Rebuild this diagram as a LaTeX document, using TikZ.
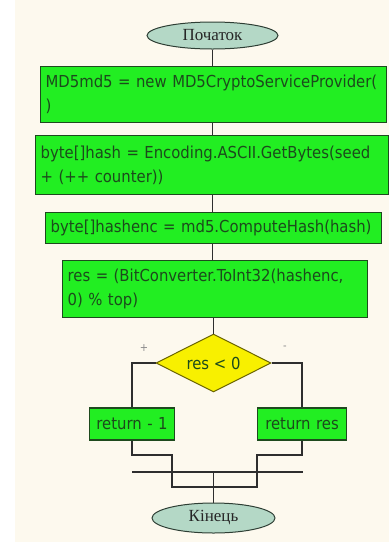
\documentclass[tikz,border=0pt]{standalone}
\usepackage{fontspec}
\usetikzlibrary{shapes.geometric}
\newfontfamily\boxfont{DejaVu Sans Condensed}
\newfontfamily\termfont{Liberation Serif}
\definecolor{paper}{HTML}{FDF9EE}
\definecolor{opfill}{HTML}{22EE22}
\definecolor{opdraw}{HTML}{1E4A1E}
\definecolor{optext}{HTML}{1C4A1C}
\definecolor{termfill}{HTML}{B4D8C6}
\definecolor{termdraw}{HTML}{2E3E34}
\definecolor{decfill}{HTML}{F8F000}
\definecolor{decdraw}{HTML}{6A6400}
\definecolor{wire}{HTML}{2E2E2E}
\tikzset{
  x=1pt, y=-1pt,
  opbox/.style={draw=opdraw, fill=opfill, line width=1.3pt, rectangle,
    anchor=north west, inner xsep=5pt, inner ysep=0pt, align=left,
    text=optext, font=\boxfont\fontsize{16.5}{24}\selectfont},
  term/.style={draw=termdraw, fill=termfill, line width=1pt, ellipse,
    inner sep=0pt, text=black!85, font=\termfont\fontsize{17}{18}\selectfont},
  decision/.style={draw=decdraw, fill=decfill, line width=1pt, diamond,
    inner sep=0pt, minimum width=115pt, minimum height=58pt, aspect=2,
    text=optext, font=\boxfont\fontsize{16.5}{18}\selectfont},
  wireline/.style={draw=wire, line width=1.4pt},
  sign/.style={text=black!45, font=\boxfont\fontsize{11}{11}\selectfont}
}
\begin{document}
\begin{tikzpicture}
  % page and paper
  \fill[white] (0,0) rectangle (389,542);
  \fill[paper] (15,0) rectangle (389,542);
  \useasboundingbox (0,0) rectangle (389,542);

  % terminals
  \node[term, minimum width=131pt, minimum height=27pt] (start) at (212.5,35.5) {Початок};
  \node[term, minimum width=123pt, minimum height=30pt] (stop) at (213.5,518) {Кінець};

  % operation boxes
  \node[opbox, text width=336pt, minimum height=56pt] (b1) at (40,66)
    {MD5md5 = new MD5CryptoServiceProvider(\\)};
  \node[opbox, text width=343pt, minimum height=59pt] (b2) at (35,135)
    {byte[]hash = Encoding.ASCII.GetBytes(seed\\+ (++ counter))};
  \node[opbox, text width=326pt, minimum height=31pt] (b3) at (45,212)
    {byte[]hashenc = md5.ComputeHash(hash)};
  \node[opbox, text width=295pt, minimum height=57pt] (b4) at (62,260)
    {res = (BitConverter.ToInt32(hashenc,\\0) \% top)};

  % decision and branches
  \node[decision] (dec) at (213.5,363) {res < 0};
  \node[opbox, anchor=center, align=center, text width=75pt, minimum height=32pt] (lb) at (132,424) {return - 1};
  \node[opbox, anchor=center, align=center, text width=79pt, minimum height=32pt] (rb) at (302,424) {return res};
  \node[sign] (plus) at (144,348) {+};
  \node[sign] (minus) at (285,348) {-};

  % junction points of the merge
  \coordinate (jl) at (172,455);
  \coordinate (jr) at (257,455);
  \coordinate (ml) at (172,487);
  \coordinate (mr) at (257,487);
  \coordinate (bl) at (132,472);
  \coordinate (br) at (303,472);
  \coordinate (bc) at (213.5,472);

  % connectors
  \begin{scope}[wireline]
    \draw (start.south) -- (b1.north -| start.south);
    \draw (b1.south -| start.south) -- (b2.north -| start.south);
    \draw (b2.south -| start.south) -- (b3.north -| start.south);
    \draw (b3.south -| start.south) -- (b4.north -| start.south);
    \draw (b4.south -| dec.north) -- (dec.north);
    \draw (dec.west) -| (lb.north);
    \draw (dec.east) -| (rb.north);
    \draw (lb.south) |- (jl) -- (ml) -- (mr) -- (jr) -| (rb.south);
    \draw (bl) -- (br);
    \draw (bc) -- (stop.north);
  \end{scope}
\end{tikzpicture}
\end{document}
